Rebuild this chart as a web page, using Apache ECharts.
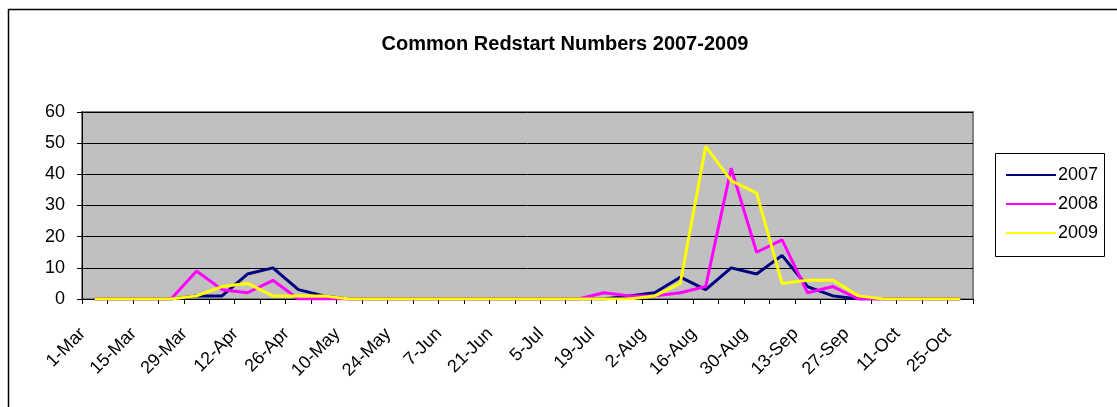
<!DOCTYPE html>
<html>
<head>
<meta charset="utf-8">
<script src="https://cdn.jsdelivr.net/npm/echarts@6/dist/echarts.min.js"></script>
<style>
  html, body { margin: 0; padding: 0; background: #fff; }
  #chart { width: 1117px; height: 407px; }
</style>
</head>
<body>
<div id="chart"></div>
<script>
// weekly counts, 1-Mar .. 25-Oct
const weeks = ['1-Mar', '8-Mar', '15-Mar', '22-Mar', '29-Mar', '5-Apr', '12-Apr', '19-Apr', '26-Apr',
  '3-May', '10-May', '17-May', '24-May', '31-May', '7-Jun', '14-Jun', '21-Jun', '28-Jun',
  '5-Jul', '12-Jul', '19-Jul', '26-Jul', '2-Aug', '9-Aug', '16-Aug', '23-Aug', '30-Aug',
  '6-Sep', '13-Sep', '20-Sep', '27-Sep', '4-Oct', '11-Oct', '18-Oct', '25-Oct'];

const y2007 = [0, 0, 0, 0, 1, 1, 8, 10, 3, 1, 0, 0, 0, 0, 0, 0, 0, 0,
  0, 0, 0, 1, 2, 7, 3, 10, 8, 14, 4, 1, 0, 0, 0, 0, 0];
const y2008 = [0, 0, 0, 0, 9, 3, 2, 6, 0, 0, 0, 0, 0, 0, 0, 0, 0, 0,
  0, 0, 2, 1, 1, 2, 4, 42, 15, 19, 2, 4, 0, 0, 0, 0, 0];
const y2009 = [0, 0, 0, 0, 1, 4, 5, 1, 1, 1, 0, 0, 0, 0, 0, 0, 0, 0,
  0, 0, 0, 0, 1, 5, 49, 38, 34, 5, 6, 6, 1, 0, 0, 0, 0];

const yearNames = ['2007', '2008', '2009'];
const yearColors = ['#000080', '#FF00FF', '#FFFF00'];

const chart = echarts.init(document.getElementById('chart'));
const font = 'Liberation Sans, Arial, sans-serif';

chart.setOption({
  animation: false,
  backgroundColor: '#fff',
  textStyle: { fontFamily: font },
  title: {
    text: 'Common Redstart Numbers 2007-2009',
    left: 560,
    top: 29,
    textAlign: 'center',
    textStyle: { fontSize: 20, fontWeight: 'bold', color: '#000', fontFamily: font }
  },
  graphic: [
    {
      type: 'rect',
      shape: { x: 8.5, y: 9.5, width: 1120, height: 410 },
      style: { fill: 'none', stroke: '#000', lineWidth: 1.5 },
      silent: true
    },
    {
      type: 'rect',
      shape: { x: 995.5, y: 153.5, width: 109, height: 103 },
      style: { fill: '#fff', stroke: '#000', lineWidth: 1 },
      z: 0,
      silent: true
    }
  ],
  legend: {
    orient: 'vertical',
    left: 1001,
    top: 161,
    itemGap: 11,
    itemWidth: 50,
    itemHeight: 22,
    icon: 'path://M0,10 L50,10 L50,12 L0,12 Z',
    data: yearNames,
    textStyle: { fontSize: 18, color: '#000', fontFamily: font, padding: [0, 0, 0, -3] }
  },
  grid: {
    left: 82,
    top: 112,
    right: 144,
    bottom: 108,
    show: true,
    backgroundColor: '#C0C0C0',
    borderColor: '#808080',
    borderWidth: 2
  },
  xAxis: {
    type: 'category',
    data: weeks,
    boundaryGap: true,
    axisLine: { lineStyle: { color: '#000', width: 1 } },
    axisTick: { show: true, interval: 0, length: 5, lineStyle: { color: '#000' } },
    axisLabel: {
      interval: 1,
      rotate: 45,
      margin: 20,
      padding: [0, 17, 0, 0],
      fontSize: 18,
      color: '#000',
      fontFamily: font
    },
    splitLine: { show: false }
  },
  yAxis: {
    type: 'value',
    min: 0,
    max: 60,
    interval: 10,
    axisLine: { show: true, lineStyle: { color: '#000', width: 1 } },
    axisTick: { show: true, length: 5, lineStyle: { color: '#000' } },
    axisLabel: { fontSize: 18, color: '#000', margin: 17, fontFamily: font },
    splitLine: { show: true, lineStyle: { color: '#000', width: 1 } }
  },
  series: [y2007, y2008, y2009].map((vals, i) => ({
    name: yearNames[i],
    type: 'line',
    data: vals,
    symbol: 'none',
    color: yearColors[i],
    lineStyle: { color: yearColors[i], width: 3 }
  }))
});
</script>
</body>
</html>
